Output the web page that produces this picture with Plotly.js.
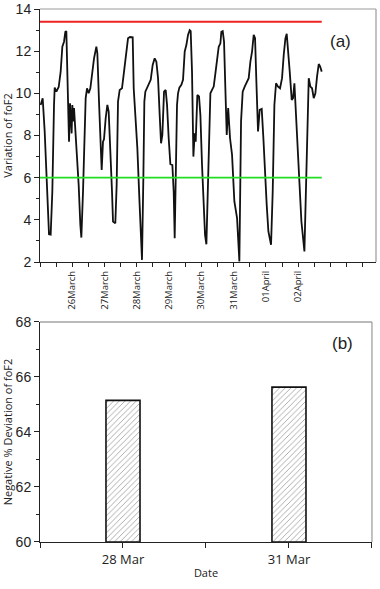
<!DOCTYPE html>
<html>
<head>
<meta charset="utf-8">
<script src="https://cdn.plot.ly/plotly-3.0.1.min.js"></script>
<style>html,body{margin:0;padding:0;background:#fff}#chart{width:380px;height:589px}</style>
</head>
<body>
<div id="chart"></div>
<script>
// Panel (a): foF2 time series, x = days since 25 March 00:00
const dayOffset = [0.02,0.083,0.145,0.227,0.279,0.331,0.382,0.434,0.455,0.507,0.579,0.640,0.692,0.744,0.785,0.816,0.847,0.899,0.930,0.961,0.980,1.002,1.033,1.054,1.095,1.147,1.198,1.250,1.281,1.333,1.384,1.415,1.457,1.508,1.560,1.622,1.674,1.746,1.777,1.828,1.870,1.911,1.952,1.983,2.035,2.087,2.128,2.180,2.231,2.262,2.334,2.375,2.417,2.469,2.541,2.603,2.665,2.727,2.789,2.872,2.903,2.954,3.016,3.078,3.120,3.160,3.202,3.233,3.264,3.305,3.367,3.430,3.491,3.553,3.605,3.657,3.708,3.750,3.791,3.843,3.894,3.936,3.987,4.039,4.101,4.142,4.173,4.204,4.245,4.276,4.318,4.380,4.431,4.483,4.535,4.586,4.638,4.669,4.710,4.752,4.793,4.824,4.875,4.927,4.969,5.020,5.072,5.113,5.155,5.196,5.227,5.279,5.330,5.382,5.434,5.485,5.537,5.589,5.619,5.661,5.702,5.743,5.785,5.830,5.888,5.950,6.022,6.105,6.177,6.229,6.280,6.342,6.404,6.466,6.518,6.570,6.621,6.663,6.704,6.755,6.807,6.869,6.921,6.972,7.024,7.076,7.158,7.210,7.262,7.313,7.375,7.437,7.499,7.551,7.603,7.644,7.685,7.737,7.799,7.840,7.882,7.923,7.975,8.037,8.099,8.192,8.244,8.284,8.326,8.377,8.429,8.481,8.532,8.584,8.636,8.677,8.729];
const foF2 = [9.45,9.77,8.19,5.34,3.32,3.30,5.34,9.45,10.27,10.08,10.30,11.03,12.21,12.45,12.92,12.95,11.03,7.71,9.53,8.82,8.10,9.45,8.67,9.30,8.19,7.40,5.66,3.76,3.16,5.34,8.35,9.77,10.24,10.00,10.24,11.19,11.66,12.21,11.90,9.61,7.87,6.37,7.71,7.82,8.82,9.45,9.13,7.55,5.34,3.92,3.84,5.66,9.61,10.16,10.24,11.03,11.82,12.61,12.67,12.66,10.24,9.13,7.40,5.03,3.29,2.10,5.98,9.61,10.08,10.24,10.40,10.64,11.35,11.66,11.50,10.72,8.98,7.63,8.03,10.08,10.16,9.45,7.87,6.64,6.60,5.34,3.13,5.34,9.45,10.00,10.27,10.40,10.64,11.98,12.29,12.77,13.00,12.95,11.03,7.00,8.10,7.71,9.92,9.85,8.98,6.60,4.71,3.29,2.84,5.34,7.87,10.00,10.16,10.32,10.95,11.50,12.21,12.37,12.92,12.95,12.45,10.24,8.03,9.30,7.87,7.08,4.87,4.08,2.03,8.67,10.08,10.32,10.56,10.72,11.50,11.98,12.77,12.61,10.56,8.19,9.22,9.26,7.87,5.98,4.71,3.45,2.82,5.34,9.45,10.48,10.32,10.24,10.72,11.82,12.61,12.82,12.13,11.03,9.69,9.77,10.48,9.30,7.87,5.98,3.92,2.50,5.66,9.45,10.72,10.32,10.24,9.77,10.00,10.80,11.39,11.28,11.03];
const upperLevel = 13.4;
const lowerLevel = 6;
const dayTickVals = [1,2,3,4,5,6,7,8];
const dayTickLabels = ['26March','27March','28March','29March','30March','31March','01April','02April'];

// Panel (b): negative % deviation
const stormDates = ['28 Mar','31 Mar'];
const negDeviation = [65.15, 65.63];

const tickFont = {family:'Liberation Sans, Arial, sans-serif', size:14, color:'#222'};
const titleFont = {family:'Open Sans, sans-serif', size:11, color:'#222'};

// build half-day tick grid for panel (a)
const halfTicks = [], halfText = [];
for (let i = 0; i <= 20; i++) {
  const v = i / 2;
  halfTicks.push(v);
  const k = dayTickVals.indexOf(v);
  halfText.push(k >= 0 ? dayTickLabels[k] : '');
}

const xStart = dayOffset[0] - 0.02;
const xEnd = dayOffset[dayOffset.length - 1];
const idx = stormDates.map((d, i) => i);

const traces = [
  {x: dayOffset, y: foF2, type:'scatter', mode:'lines', line:{color:'#111', width:1.8}, xaxis:'x', yaxis:'y', hoverinfo:'skip'},
  {x: [xStart, xEnd], y: [upperLevel, upperLevel], type:'scatter', mode:'lines', line:{color:'#ee2222', width:2}, xaxis:'x', yaxis:'y'},
  {x: [xStart, xEnd], y: [lowerLevel, lowerLevel], type:'scatter', mode:'lines', line:{color:'#22dd22', width:1.8}, xaxis:'x', yaxis:'y'},
  {x: idx, y: negDeviation.map(v => v - 60), base:60, type:'bar', width:0.205,
   marker:{color:'#fff', line:{color:'#111', width:1.6}, pattern:{shape:'/', fgcolor:'#999', bgcolor:'#fff', size:4, solidity:0.2}},
   xaxis:'x2', yaxis:'y2'}
];

const layout = {
  width:380, height:589, showlegend:false,
  paper_bgcolor:'#fff', plot_bgcolor:'#fff',
  margin:{l:40, r:4, t:9, b:47},
  xaxis:{domain:[0,1], range:[0,10.41], tickmode:'array', tickvals:halfTicks, ticktext:halfText,
    tickangle:-90, tickfont:{family:'Open Sans, sans-serif', size:9.5, color:'#222'},
    ticks:'outside', ticklen:4, tickcolor:'#222', showline:true, linecolor:'#222', linewidth:1,
    showgrid:false, zeroline:false, anchor:'y', fixedrange:true},
  yaxis:{domain:[0.5253,1], range:[2,14], dtick:2, tickfont:tickFont, ticks:'outside', ticklen:5, tickcolor:'#222',
    minor:{dtick:1, ticklen:3, tickcolor:'#222', ticks:'outside'},
    showline:true, linecolor:'#222', linewidth:1, showgrid:false, zeroline:false, anchor:'x',
    title:{text:'Variation of foF2', font:titleFont, standoff:2}},
  xaxis2:{domain:[0,0.988], range:[-0.5,1.5], tickmode:'array', tickvals:idx, ticktext:stormDates,
    tickfont:{family:'Open Sans, sans-serif', size:13, color:'#222'},
    ticks:'outside', ticklen:5, tickcolor:'#222',
    minor:{tickmode:'array', tickvals:[-0.5,0.5,1.5], ticklen:5, tickcolor:'#222', ticks:'outside'},
    showline:true, linecolor:'#222', linewidth:1, showgrid:false, zeroline:false, anchor:'y2',
    title:{text:'Date', font:titleFont, standoff:2}},
  yaxis2:{domain:[0,0.4128], range:[60,68], dtick:2, tickfont:tickFont, ticks:'outside', ticklen:5, tickcolor:'#222',
    minor:{dtick:1, ticklen:3, tickcolor:'#222', ticks:'outside'},
    showline:true, linecolor:'#222', linewidth:1, showgrid:false, zeroline:false, anchor:'x2',
    title:{text:'Negative % Deviation of foF2', font:titleFont, standoff:2}},
  shapes:[
    {type:'line', xref:'x domain', yref:'y domain', x0:0, x1:1, y0:1, y1:1, line:{color:'#999', width:1.2}},
    {type:'line', xref:'x domain', yref:'y domain', x0:1, x1:1, y0:0, y1:1, line:{color:'#999', width:1.2}},
    {type:'line', xref:'x2 domain', yref:'y2 domain', x0:0, x1:1, y0:1, y1:1, line:{color:'#777', width:1.2}},
    {type:'line', xref:'x2 domain', yref:'y2 domain', x0:1, x1:1, y0:0, y1:1, line:{color:'#999', width:1.2}}
  ],
  annotations:[
    {text:'(a)', xref:'paper', yref:'paper', x:(353-40)/336, y:(589-47-30)/533, showarrow:false,
     font:{family:'Liberation Sans, Arial, sans-serif', size:17, color:'#222'}},
    {text:'(b)', xref:'paper', yref:'paper', x:(355-40)/336, y:(589-47-343)/533, showarrow:false,
     font:{family:'Liberation Sans, Arial, sans-serif', size:17, color:'#222'}}
  ]
};

Plotly.newPlot('chart', traces, layout, {displayModeBar:false, staticPlot:true});
</script>
</body>
</html>
